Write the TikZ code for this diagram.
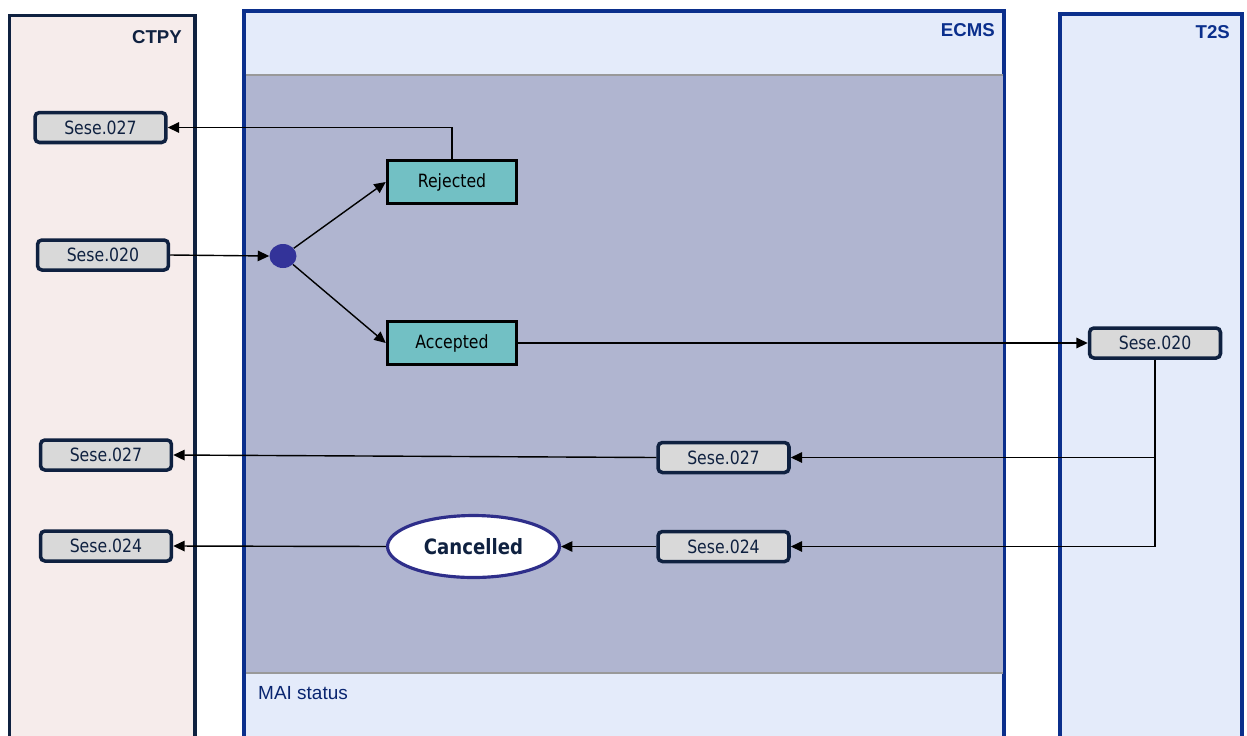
\documentclass[tikz,border=0pt]{standalone}
\usepackage{fontspec}
\setmainfont{DejaVu Sans}
\newfontfamily\boxfont[FakeStretch=0.86]{DejaVu Sans}
\newfontfamily\headfont{Liberation Sans}
\usetikzlibrary{arrows.meta,positioning,calc,shapes.geometric}

\definecolor{lanepink}{HTML}{F6ECEB}
\definecolor{laneblue}{HTML}{E4EBFA}
\definecolor{navy}{HTML}{0F2140}
\definecolor{ecmsblue}{HTML}{0B2F8C}
\definecolor{stategray}{HTML}{B0B5D0}
\definecolor{msggray}{HTML}{D9D9D9}
\definecolor{teal}{HTML}{72C0C4}
\definecolor{dotblue}{HTML}{333399}

\tikzset{
  msg/.style={rectangle, rounded corners=2.5pt, draw=navy, line width=2pt,
    fill=msggray, minimum width=2.62cm, minimum height=0.6cm, inner sep=0pt,
    font=\boxfont\fontsize{10.4}{12}\selectfont, text=navy},
  state/.style={rectangle, draw=black, line width=2pt, fill=teal,
    minimum width=2.58cm, minimum height=0.86cm, inner sep=0pt,
    font=\boxfont\fontsize{10.4}{12}\selectfont},
  flow/.style={-{Triangle[length=6.5pt,width=6pt]}, line width=0.8pt, black},
  lanetitle/.style={font=\headfont\bfseries\fontsize{10.6}{12}\selectfont, anchor=east}
}

\begin{document}
\begin{tikzpicture}[x=0.02cm, y=-0.02cm]
  \useasboundingbox (0,0) rectangle (1247,735);

  % lanes
  \draw [fill=lanepink, draw=navy, line width=1.8pt] (9.5,15.5) rectangle (195,760);
  \draw [fill=laneblue, draw=ecmsblue, line width=1.8pt] (244,11) rectangle (1004,760);
  \draw [fill=laneblue, draw=ecmsblue, line width=1.8pt] (1060,14) rectangle (1242,760);
  \fill [stategray] (245.5,75) rectangle (1002.5,673);
  \draw [gray!80, line width=1pt] (245.5,75) -- (1002.5,75);
  \draw [gray!80, line width=1pt] (245.5,673) -- (1002.5,673);

  \node (ctpy) [lanetitle, text=navy] at (188,37) {CTPY};
  \node (ecms) [lanetitle, text=ecmsblue] at (1001,30) {ECMS};
  \node (t2s) [lanetitle, text=ecmsblue] at (1236,32) {T2S};
  \node (mai) [anchor=west, font=\headfont\fontsize{10.8}{12}\selectfont, text=ecmsblue!80!black] at (252,693) {MAI status};

  % messages and states
  \node (s27a) [msg] at (100.5,127.5) {Sese.027};
  \node (s20a) [msg] at (103,255) {Sese.020};
  \node (s27c) [msg] at (106,455) {Sese.027};
  \node (s24c) [msg] at (106,546) {Sese.024};

  \node (dot) [ellipse, fill=dotblue, minimum width=0.54cm, minimum height=0.48cm, inner sep=0pt] at (283,256) {};
  \node (rej) [state] at (452,182) {Rejected};
  \node (acc) [state] at (452,343) {Accepted};
  \node (canc) [ellipse, draw=dotblue!90!black, line width=1.8pt, fill=white,
    minimum width=3.44cm, minimum height=1.24cm, inner sep=0pt,
    font=\boxfont\bfseries\fontsize{12}{14}\selectfont, text=navy] at (473.5,546.5) {Cancelled};

  \node (s27b) [msg] at (723.5,457.5) {Sese.027};
  \node (s24b) [msg] at (723.5,546.5) {Sese.024};
  \node (t20) [msg] at (1155,343) {Sese.020};

  % flows
  \draw [flow] (rej.north) |- (s27a.east);
  \draw [flow] (s20a.east) -- (dot.west);
  \draw [flow] (dot) -- (rej.west);
  \draw [flow] (dot) -- (acc.west);
  \draw [flow] (acc.east) -- (t20.west);
  \draw [flow] (t20.south) |- (s27b.east);
  \draw [flow] (t20.south) |- (s24b.east);
  \draw [flow] (s27b.west) -- (s27c.east);
  \draw [flow] (s24b.west) -- (canc.east);
  \draw [flow] (canc.west) -- (s24c.east);
\end{tikzpicture}
\end{document}
